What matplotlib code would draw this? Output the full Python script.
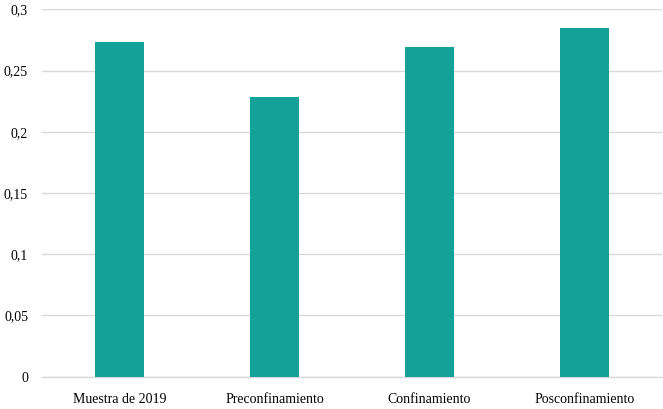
import matplotlib
matplotlib.use("Agg")
import matplotlib.pyplot as plt
import numpy as np
from matplotlib.ticker import FuncFormatter

# ---- Data ------------------------------------------------------------------
categories = ["Muestra de 2019", "Preconfinamiento", "Confinamiento", "Posconfinamiento"]
values = [0.2735, 0.2284, 0.2692, 0.2845]
yticks = [0, 0.05, 0.1, 0.15, 0.2, 0.25, 0.3]

plt.rcParams.update({
    "font.family": ["Liberation Serif", "DejaVu Serif"],
    "font.size": 10,
})

fig = plt.figure(figsize=(6.63, 4.09), dpi=100)
ax = fig.add_axes([42 / 663, 1 - 376.7 / 409, 620 / 663, (376.7 - 9.3) / 409])

x = np.arange(len(categories))
ax.bar(x, values, width=0.316, color="#13A19A", zorder=3)

ax.set_xlim(-0.5, len(categories) - 0.5)
ax.set_ylim(0, 0.3)
ax.set_yticks(yticks)
ax.yaxis.set_major_formatter(FuncFormatter(lambda v, _: f"{v:g}".replace(".", ",")))
ax.set_xticks(x)
ax.set_xticklabels(categories)

ax.grid(axis="y", color="#d9d9d9", linewidth=1.0, zorder=0)
for s in ["top", "right", "left"]:
    ax.spines[s].set_visible(False)
ax.spines["bottom"].set_color("#d9d9d9")
ax.spines["bottom"].set_linewidth(1.0)
ax.tick_params(axis="both", length=0, colors="black")
ax.tick_params(axis="x", pad=12)
ax.tick_params(axis="y", pad=10)

fig.savefig("out.png", dpi=100)
